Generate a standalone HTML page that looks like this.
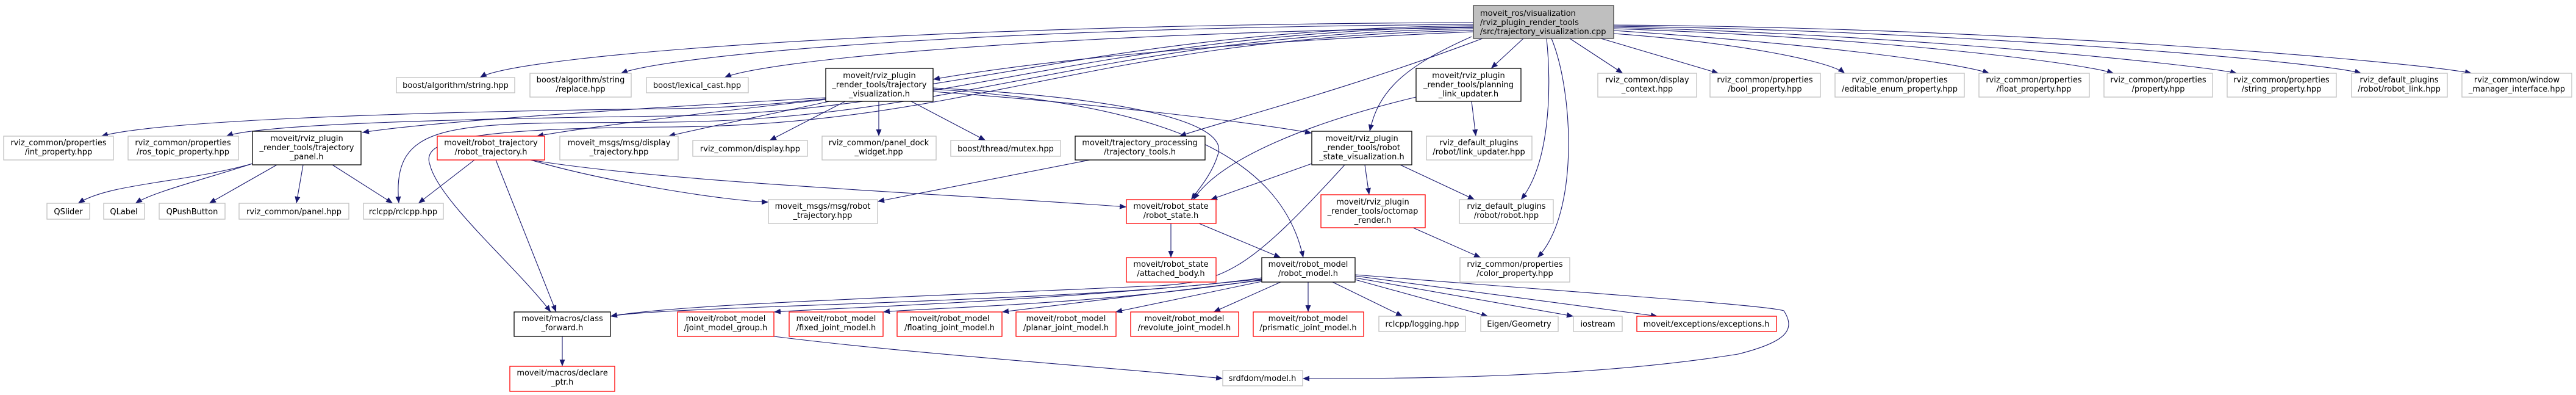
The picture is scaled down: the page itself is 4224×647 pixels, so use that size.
<!DOCTYPE html>
<html><head><meta charset="utf-8"><style>
html,body{margin:0;padding:0;background:#fff}
svg{display:block}
text{font-family:"DejaVu Sans","Liberation Sans",sans-serif;font-size:13px;fill:#000}
.g{fill:#fff;stroke:#bfbfbf;stroke-width:1.3}
.b{fill:#fff;stroke:#000;stroke-width:1.3}
.r{fill:#fff;stroke:#ff0000;stroke-width:1.3}
.m{fill:#bfbfbf;stroke:#404040;stroke-width:1.3}
.e{fill:none;stroke:#191970;stroke-width:1.1}
</style></head><body>
<svg width="4224" height="647" viewBox="0 0 4224 647" xmlns="http://www.w3.org/2000/svg">
<defs><marker id="a" markerUnits="userSpaceOnUse" markerWidth="12" markerHeight="9" refX="11" refY="4.5" orient="auto"><path d="M0,0 L11,4.5 L0,9 z" fill="#191970"/></marker></defs>
<g class="edges" marker-end="url(#a)">
<path class="e" d="M2416,37 C1500,40 850,90 787,127"/>
<path class="e" d="M2416,40 C1600,45 1100,90 1018,120"/>
<path class="e" d="M2416,45 C1700,55 1250,100 1188,127"/>
<path class="e" d="M2416,52 C2000,70 1700,100 1530,130"/>
<path class="e" d="M2416,42 C1800,48 1550,172 1100,178 C600,184 250,200 166,223"/>
<path class="e" d="M2416,44 C1800,52 1560,185 1100,190 C700,195 420,205 371,223"/>
<path class="e" d="M2416,47 C1800,56 1580,195 1100,200 C750,203 640,190 654,333"/>
<path class="e" d="M2416,50 C1800,60 1600,205 1100,208 C760,210 690,230 705,270 C720,330 850,440 903,511"/>
<path class="e" d="M2431,63 C2200,150 2000,200 1934,223"/>
<path class="e" d="M2498,63 L2445,112"/>
<path class="e" d="M2413,60 C2300,110 2260,150 2246,215"/>
<path class="e" d="M2536,63 C2545,150 2540,270 2494,327"/>
<path class="e" d="M2544,63 C2580,150 2590,350 2521,422"/>
<path class="e" d="M2574,63 L2661,120"/>
<path class="e" d="M2625,63 L2818,120"/>
<path class="e" d="M2646,55 C2850,70 3000,100 3025,120"/>
<path class="e" d="M2646,50 C2950,70 3200,100 3262,120"/>
<path class="e" d="M2646,47 C3050,60 3400,100 3466,120"/>
<path class="e" d="M2646,45 C3100,55 3600,105 3668,120"/>
<path class="e" d="M2646,43 C3200,50 3800,100 3872,120"/>
<path class="e" d="M2646,41 C3300,45 3950,100 4053,120"/>
<path class="e" d="M1354,160 C1000,180 700,200 594,217"/>
<path class="e" d="M1354,163 C1150,185 950,210 880,223"/>
<path class="e" d="M1360,166 C1250,190 1150,210 1096,223"/>
<path class="e" d="M1386,166 L1262,230"/>
<path class="e" d="M1441,166 L1441,223"/>
<path class="e" d="M1494,166 L1616,230"/>
<path class="e" d="M1530,144 C1850,160 2010,200 1998,250 C1990,280 1970,305 1953,327"/>
<path class="e" d="M1530,146 C1900,170 2100,250 2137,422"/>
<path class="e" d="M1530,150 C1800,170 2050,200 2151,218"/>
<path class="e" d="M2322,159 C2150,200 2000,260 1957,327"/>
<path class="e" d="M2413,166 L2420,223"/>
<path class="e" d="M2151,268 L1985,327"/>
<path class="e" d="M2238,270 L2245,319"/>
<path class="e" d="M2296,270 L2418,327"/>
<path class="e" d="M2205,270 C2050,440 2010,462 1900,468 C1400,490 1100,500 1001,518"/>
<path class="e" d="M870,262 C1000,300 1200,330 1260,331"/>
<path class="e" d="M870,262 C1100,300 1600,320 1847,339"/>
<path class="e" d="M813,262 L912,511"/>
<path class="e" d="M778,262 L686,333"/>
<path class="e" d="M1787,262 L1439,330"/>
<path class="e" d="M414,268 C300,300 180,300 128,333"/>
<path class="e" d="M414,268 C330,295 250,315 222,333"/>
<path class="e" d="M454,270 L343,333"/>
<path class="e" d="M497,270 L486,333"/>
<path class="e" d="M545,270 L644,333"/>
<path class="e" d="M1920,366 L1920,422"/>
<path class="e" d="M1966,366 L2100,422"/>
<path class="e" d="M2317,373 L2428,422"/>
<path class="e" d="M2069,455 C1800,495 1100,500 1001,518"/>
<path class="e" d="M2069,457 C1700,495 1350,505 1269,511"/>
<path class="e" d="M2069,458 C1800,500 1500,505 1448,511"/>
<path class="e" d="M2069,459 L1643,511"/>
<path class="e" d="M2069,461 L1829,511"/>
<path class="e" d="M2100,462 L1990,511"/>
<path class="e" d="M2145,462 L2145,511"/>
<path class="e" d="M2185,462 L2300,518"/>
<path class="e" d="M2222,458 L2440,518"/>
<path class="e" d="M2222,455 L2580,518"/>
<path class="e" d="M2222,452 L2718,518"/>
<path class="e" d="M2222,450 C2600,480 2900,500 2925,509 C2945,540 2930,560 2850,580 C2600,620 2300,620 2136,620"/>
<path class="e" d="M1269,551 C1500,580 1800,600 2005,620"/>
<path class="e" d="M922,551 L922,600"/>
</g>
<g>
<rect class="m" x="2416" y="9" width="230" height="54"/>
<text x="2427" y="26">moveit_ros/visualization</text><text x="2427" y="41">/rviz_plugin_render_tools</text><text x="2427" y="56">/src/trajectory_visualization.cpp</text>
</g>
<g text-anchor="middle">
<rect class="g" x="650" y="127" width="194" height="25"/><text x="747" y="144">boost/algorithm/string.hpp</text>
<rect class="g" x="869" y="120" width="166" height="39"/><text x="952" y="135">boost/algorithm/string</text><text x="952" y="150">/replace.hpp</text>
<rect class="g" x="1060" y="127" width="167" height="25"/><text x="1143" y="144">boost/lexical_cast.hpp</text>
<rect class="b" x="1354" y="112" width="176" height="54"/><text x="1442" y="128">moveit/rviz_plugin</text><text x="1442" y="143">_render_tools/trajectory</text><text x="1442" y="158">_visualization.h</text>
<rect class="b" x="2322" y="112" width="172" height="54"/><text x="2408" y="128">moveit/rviz_plugin</text><text x="2408" y="143">_render_tools/planning</text><text x="2408" y="158">_link_updater.h</text>
<rect class="g" x="2620" y="120" width="162" height="39"/><text x="2701" y="135">rviz_common/display</text><text x="2701" y="150">_context.hpp</text>
<rect class="g" x="2804" y="120" width="181" height="39"/><text x="2894" y="135">rviz_common/properties</text><text x="2894" y="150">/bool_property.hpp</text>
<rect class="g" x="3009" y="120" width="212" height="39"/><text x="3115" y="135">rviz_common/properties</text><text x="3115" y="150">/editable_enum_property.hpp</text>
<rect class="g" x="3245" y="120" width="181" height="39"/><text x="3335" y="135">rviz_common/properties</text><text x="3335" y="150">/float_property.hpp</text>
<rect class="g" x="3450" y="120" width="178" height="39"/><text x="3539" y="135">rviz_common/properties</text><text x="3539" y="150">/property.hpp</text>
<rect class="g" x="3652" y="120" width="179" height="39"/><text x="3741" y="135">rviz_common/properties</text><text x="3741" y="150">/string_property.hpp</text>
<rect class="g" x="3856" y="120" width="157" height="39"/><text x="3934" y="135">rviz_default_plugins</text><text x="3934" y="150">/robot/robot_link.hpp</text>
<rect class="g" x="4037" y="120" width="180" height="39"/><text x="4127" y="135">rviz_common/window</text><text x="4127" y="150">_manager_interface.hpp</text>
<rect class="g" x="6" y="223" width="180" height="39"/><text x="96" y="238">rviz_common/properties</text><text x="96" y="253">/int_property.hpp</text>
<rect class="g" x="210" y="223" width="181" height="39"/><text x="300" y="238">rviz_common/properties</text><text x="300" y="253">/ros_topic_property.hpp</text>
<rect class="b" x="414" y="215" width="178" height="55"/><text x="503" y="231">moveit/rviz_plugin</text><text x="503" y="246">_render_tools/trajectory</text><text x="503" y="261">_panel.h</text>
<rect class="r" x="717" y="223" width="176" height="39"/><text x="805" y="238">moveit/robot_trajectory</text><text x="805" y="253">/robot_trajectory.h</text>
<rect class="g" x="918" y="223" width="194" height="39"/><text x="1015" y="238">moveit_msgs/msg/display</text><text x="1015" y="253">_trajectory.hpp</text>
<rect class="g" x="1136" y="230" width="188" height="26"/><text x="1230" y="248">rviz_common/display.hpp</text>
<rect class="g" x="1348" y="223" width="187" height="39"/><text x="1441" y="238">rviz_common/panel_dock</text><text x="1441" y="253">_widget.hpp</text>
<rect class="g" x="1559" y="230" width="180" height="26"/><text x="1649" y="248">boost/thread/mutex.hpp</text>
<rect class="b" x="1763" y="223" width="213" height="39"/><text x="1869" y="238">moveit/trajectory_processing</text><text x="1869" y="253">/trajectory_tools.h</text>
<rect class="b" x="2151" y="215" width="164" height="55"/><text x="2233" y="231">moveit/rviz_plugin</text><text x="2233" y="246">_render_tools/robot</text><text x="2233" y="261">_state_visualization.h</text>
<rect class="g" x="2339" y="223" width="173" height="39"/><text x="2425" y="238">rviz_default_plugins</text><text x="2425" y="253">/robot/link_updater.hpp</text>
<rect class="g" x="77" y="333" width="70" height="26"/><text x="112" y="351">QSlider</text>
<rect class="g" x="170" y="333" width="67" height="26"/><text x="203" y="351">QLabel</text>
<rect class="g" x="261" y="333" width="108" height="26"/><text x="315" y="351">QPushButton</text>
<rect class="g" x="392" y="333" width="180" height="26"/><text x="482" y="351">rviz_common/panel.hpp</text>
<rect class="g" x="596" y="333" width="131" height="26"/><text x="661" y="351">rclcpp/rclcpp.hpp</text>
<rect class="g" x="1260" y="327" width="179" height="39"/><text x="1349" y="342">moveit_msgs/msg/robot</text><text x="1349" y="357">_trajectory.hpp</text>
<rect class="r" x="1847" y="327" width="147" height="39"/><text x="1920" y="342">moveit/robot_state</text><text x="1920" y="357">/robot_state.h</text>
<rect class="r" x="2166" y="319" width="171" height="54"/><text x="2251" y="335">moveit/rviz_plugin</text><text x="2251" y="350">_render_tools/octomap</text><text x="2251" y="365">_render.h</text>
<rect class="g" x="2393" y="327" width="154" height="39"/><text x="2470" y="342">rviz_default_plugins</text><text x="2470" y="357">/robot/robot.hpp</text>
<rect class="r" x="1847" y="422" width="147" height="40"/><text x="1920" y="437">moveit/robot_state</text><text x="1920" y="452">/attached_body.h</text>
<rect class="b" x="2069" y="422" width="153" height="40"/><text x="2145" y="437">moveit/robot_model</text><text x="2145" y="452">/robot_model.h</text>
<rect class="g" x="2394" y="422" width="180" height="40"/><text x="2484" y="437">rviz_common/properties</text><text x="2484" y="452">/color_property.hpp</text>
<rect class="b" x="843" y="511" width="158" height="40"/><text x="922" y="526">moveit/macros/class</text><text x="922" y="541">_forward.h</text>
<rect class="r" x="1111" y="511" width="158" height="40"/><text x="1190" y="526">moveit/robot_model</text><text x="1190" y="541">/joint_model_group.h</text>
<rect class="r" x="1294" y="511" width="154" height="40"/><text x="1371" y="526">moveit/robot_model</text><text x="1371" y="541">/fixed_joint_model.h</text>
<rect class="r" x="1471" y="511" width="172" height="40"/><text x="1557" y="526">moveit/robot_model</text><text x="1557" y="541">/floating_joint_model.h</text>
<rect class="r" x="1666" y="511" width="164" height="40"/><text x="1748" y="526">moveit/robot_model</text><text x="1748" y="541">/planar_joint_model.h</text>
<rect class="r" x="1854" y="511" width="177" height="40"/><text x="1942" y="526">moveit/robot_model</text><text x="1942" y="541">/revolute_joint_model.h</text>
<rect class="r" x="2055" y="511" width="181" height="40"/><text x="2145" y="526">moveit/robot_model</text><text x="2145" y="541">/prismatic_joint_model.h</text>
<rect class="g" x="2261" y="518" width="142" height="25"/><text x="2332" y="535">rclcpp/logging.hpp</text>
<rect class="g" x="2428" y="518" width="127" height="25"/><text x="2491" y="535">Eigen/Geometry</text>
<rect class="g" x="2580" y="518" width="80" height="25"/><text x="2620" y="535">iostream</text>
<rect class="r" x="2684" y="518" width="229" height="25"/><text x="2798" y="535">moveit/exceptions/exceptions.h</text>
<rect class="r" x="836" y="600" width="172" height="41"/><text x="922" y="615">moveit/macros/declare</text><text x="922" y="630">_ptr.h</text>
<rect class="g" x="2005" y="607" width="131" height="25"/><text x="2070" y="624">srdfdom/model.h</text>
</g>
</svg>
</body></html>
